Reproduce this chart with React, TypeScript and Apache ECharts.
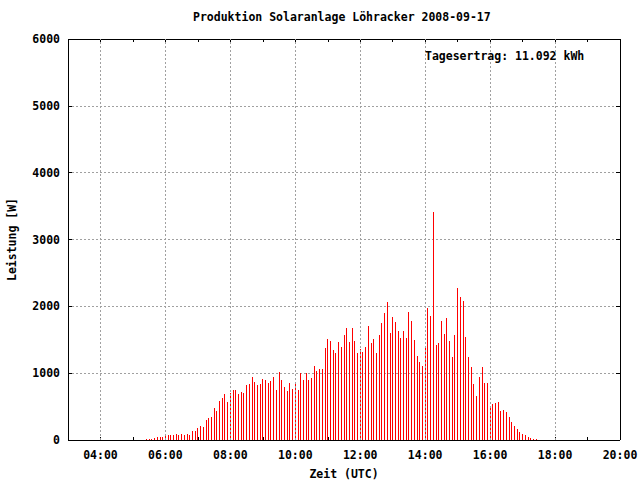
import React, { useEffect, useRef } from "react";
import * as echarts from "echarts";

const chartTitle = "Produktion Solaranlage Löhracker 2008-09-17";
const yieldLabel = "Tagesertrag: 11.092 kWh";
const xAxisName = "Zeit (UTC)";
const yAxisName = "Leistung [W]";

// first sample time and sampling step of the power series
const startTime = "05:25";
const stepMinutes = 5;

// power [W], one value every 5 minutes from 05:25 to 17:25
const power = [
  15, 15, 15, 35, 50, 50, 50, 70, 80, 80, 80, 95, 80, 95, 80, 95, 80, 140, 140, 185,
  215, 200, 305, 335, 350, 485, 440, 590, 635, 695, 575, 710, 755, 755, 695, 725, 710, 830, 845, 950,
  875, 830, 845, 920, 905, 860, 890, 950, 755, 1020, 905, 800, 740, 860, 770, 845, 745, 1003, 898, 1003,
  898, 928, 1107, 1032, 1062, 1062, 1377, 1511, 1481, 1347, 1302, 1466, 1391, 1571, 1676, 1466, 1676, 1481, 1302, 1362,
  1317, 1391, 1706, 1451, 1511, 1302, 1571, 1751, 1900, 2065, 1601, 1840, 1766, 1631, 1526, 1631, 1526, 1915, 1781, 1496,
  1257, 1167, 1107, 1391, 1975, 1855, 3411, 1421, 1451, 1781, 1586, 1825, 1481, 1242, 1571, 2274, 2141, 2081, 1541, 1242,
  1092, 838, 658, 943, 1092, 853, 853, 509, 539, 554, 569, 434, 449, 419, 344, 269, 210, 165, 120, 90,
  75, 45, 30, 15, 15,
];

// axis ranges (hours of day / watts)
const xMinHour = 3;
const xMaxHour = 20;
const gridHours = [4, 6, 8, 10, 12, 14, 16, 18];
const yMax = 6000;
const yStep = 1000;

const fontFamily = "'DejaVu Sans Mono', 'Liberation Mono', monospace";

export default function App() {
  const ref = useRef<HTMLDivElement>(null);

  useEffect(() => {
    if (!ref.current) return;
    const chart = echarts.init(ref.current, null, { renderer: "svg" });
    const [h0, m0] = startTime.split(":").map(Number);
    const t0 = h0 + m0 / 60;
    const data = power.map((v, i) => [t0 + (i * stepMinutes) / 60, v]);

    const font = {
      fontFamily,
      fontWeight: "bold" as const,
      fontSize: 11.5,
      color: "#000",
    };
    const axisBlack = { show: true, onZero: false, lineStyle: { color: "#000", width: 1 } };
    const gridLine = { color: "#a0a0a0", width: 1, type: [2, 2] as number[] };

    chart.setOption({
      animation: false,
      backgroundColor: "#ffffff",
      title: [
        {
          text: chartTitle,
          left: 193,
          top: 11,
          padding: 0,
          textStyle: { ...font },
        },
        {
          text: yieldLabel,
          left: 425,
          top: 50,
          padding: 0,
          textStyle: { ...font },
        },
      ],
      grid: {
        left: 68,
        top: 39,
        width: 552,
        height: 401,
        show: false,
        containLabel: false,
        outerBoundsMode: "none",
      },
      xAxis: [
        {
          type: "value",
          min: xMinHour,
          max: xMaxHour,
          interval: 1,
          position: "bottom",
          axisLine: axisBlack,
          axisTick: { show: true, inside: true, length: 3, lineStyle: { color: "#000" } },
          axisLabel: {
            ...font,
            margin: 9,
            showMaxLabel: true,
            showMinLabel: true,
            formatter: (v: number) =>
              v % 2 === 0 ? `${String(v).padStart(2, "0")}:00` : "",
          },
          splitLine: { show: false },
          name: xAxisName,
          nameLocation: "middle",
          nameGap: 28,
          nameTextStyle: { ...font },
        },
        {
          type: "value",
          min: xMinHour,
          max: xMaxHour,
          interval: 1,
          position: "top",
          axisLine: axisBlack,
          axisTick: { show: true, inside: true, length: 3, lineStyle: { color: "#000" } },
          axisLabel: { show: false },
          splitLine: { show: false },
        },
      ],
      yAxis: [
        {
          type: "value",
          min: 0,
          max: yMax,
          interval: yStep,
          position: "left",
          axisLine: axisBlack,
          axisTick: { show: true, inside: true, length: 4, lineStyle: { color: "#000" } },
          axisLabel: { ...font, margin: 8, formatter: (v: number) => String(v) },
          splitLine: { show: true, lineStyle: gridLine },
          name: yAxisName,
          nameLocation: "middle",
          nameGap: 50,
          nameRotate: 90,
          nameTextStyle: { ...font },
        },
        {
          type: "value",
          min: 0,
          max: yMax,
          interval: yStep,
          position: "right",
          axisLine: axisBlack,
          axisTick: { show: true, inside: true, length: 4, lineStyle: { color: "#000" } },
          axisLabel: { show: false },
          splitLine: { show: false },
        },
      ],
      series: [
        {
          type: "line",
          data: [],
          z: 1,
          silent: true,
          markLine: {
            silent: true,
            symbol: "none",
            label: { show: false },
            lineStyle: gridLine,
            data: gridHours.map((h) => ({ xAxis: h })),
          },
        },
        {
          type: "bar",
          data,
          barWidth: 1,
          z: 2,
          itemStyle: { color: "#ff0000" },
        },
      ],
    });

    return () => chart.dispose();
  }, []);

  return (
    <>
      <style>{".ec-crisp svg path { shape-rendering: crispEdges; }"}</style>
      <div
        ref={ref}
        className="ec-crisp"
        style={{ width: 640, height: 480, position: "absolute", left: 0, top: 0 }}
      />
    </>
  );
}
